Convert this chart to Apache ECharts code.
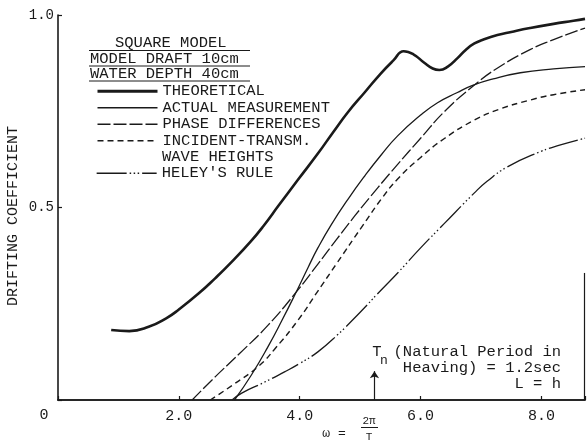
<!DOCTYPE html>
<html><head><meta charset="utf-8">
<script src="https://cdn.jsdelivr.net/npm/echarts@6/dist/echarts.min.js"></script>
<style>html,body{margin:0;padding:0;background:#fff}#c{width:588px;height:446px}</style>
</head><body><div id="c"></div>
<script>
// ---- data ----
const xTickLabels = ['0', '2.0', '4.0', '6.0', '8.0'];
const yTickLabels = ['0.5', '1.0'];

const theoW = [0.88,1.18,1.5,1.79,2.0,2.33,2.6,2.87,3.19,3.4,3.65,3.97,4.3,4.55,4.8,5.08,5.34,5.55,5.72,5.88,6.06,6.2,6.31,6.45,6.61,6.75,6.89,7.05,7.27,7.5,7.81,8.2,8.53,8.72];
const theoV = [0.182,0.179,0.19,0.212,0.235,0.277,0.316,0.358,0.412,0.452,0.505,0.572,0.64,0.695,0.748,0.80,0.848,0.882,0.906,0.898,0.876,0.861,0.857,0.866,0.888,0.91,0.926,0.937,0.948,0.956,0.966,0.977,0.985,0.99];

const actW = [2.92,3.2,3.48,3.7,3.94,4.14,4.3,4.52,4.8,5.08,5.35,5.62,6.0,6.28,6.6,6.86,7.2,7.65,8.2,8.72];
const actV = [0,0.065,0.14,0.205,0.28,0.345,0.395,0.455,0.522,0.583,0.637,0.686,0.74,0.772,0.798,0.817,0.834,0.85,0.86,0.866];

const phW = [2.22,2.6,3.0,3.48,3.94,4.3,4.6,4.91,5.3,5.62,6.0,6.4,6.89,7.3,7.81,8.2,8.72];
const phV = [0,0.06,0.12,0.195,0.28,0.353,0.415,0.478,0.553,0.612,0.68,0.75,0.818,0.865,0.91,0.936,0.966];

const incW = [2.52,2.9,3.32,3.6,3.97,4.3,4.6,5.05,5.35,5.62,6.0,6.4,6.89,7.3,7.81,8.2,8.72];
const incV = [0,0.04,0.088,0.135,0.207,0.283,0.352,0.455,0.522,0.574,0.63,0.68,0.727,0.755,0.779,0.793,0.806];

const helW = [2.88,3.04,3.4,3.76,4.0,4.3,4.63,5.0,5.3,5.62,6.0,6.39,6.89,7.1,7.43,7.98,8.3,8.72];
const helV = [0,0.018,0.045,0.074,0.095,0.125,0.17,0.228,0.278,0.33,0.395,0.458,0.538,0.568,0.605,0.645,0.662,0.68];

const naturalOmega = 2 * Math.PI / 1.2;  // Tn = 1.2 sec
const arrowTop = 0.075;

const seriesNames = ['THEORETICAL', 'ACTUAL MEASUREMENT', 'PHASE DIFFERENCES', 'INCIDENT-TRANSM.', "HELEY'S RULE"];
// ---------------------------------------

const zip = (a, b) => a.map((v, i) => [v, b[i]]);
const INK = '#1a1a1a';
const MONO = '"Liberation Mono", "DejaVu Sans Mono", monospace';
const widths = [2.6, 1.3, 1.3, 1.4, 1.3];
const dashes = ['solid', 'solid', [13, 3], [6, 4], [30, 3, 1.5, 2.5, 1.5, 2.5, 1.5, 3]];

function lineSeries(i, data) {
  return {
    name: seriesNames[i], type: 'line', data, showSymbol: false, symbol: 'none',
    smooth: 0.5,
    lineStyle: { color: INK, width: widths[i], type: dashes[i], cap: 'butt', join: 'round' },
    itemStyle: { color: INK },
    emphasis: { disabled: true }, silent: true, z: 3
  };
}

const chart = echarts.init(document.getElementById('c'), null, { renderer: 'canvas' });
const txt = (text, x, y, size, align, extra) => Object.assign({
  type: 'text', x, y, silent: true,
  style: { text, fill: INK, font: size + 'px ' + MONO, textAlign: align || 'left', textVerticalAlign: 'middle' }
}, extra || {});
const hline = (x1, x2, y, w) => ({ type: 'line', silent: true, shape: { x1, y1: y, x2, y2: y }, style: { stroke: INK, lineWidth: w || 1 } });

const legendText = { fontFamily: MONO, fontSize: 15.5, color: INK, lineHeight: 16.5 };
const legendItem = i => ({
  name: seriesNames[i],
  itemStyle: { opacity: 0 },
  lineStyle: { color: INK, width: i === 0 ? 3 : 1.3, type: dashes[i], opacity: 1 }
});

const option = {
  backgroundColor: '#ffffff',
  animation: false,
  grid: { left: 58, right: 0, top: 15, bottom: 46, containLabel: false },
  xAxis: [{
    type: 'value', min: 0, max: 8.72, interval: 2,
    axisLine: { show: true, onZero: false, lineStyle: { color: INK, width: 1.6 } },
    axisTick: { show: true, inside: true, length: 4, lineStyle: { color: INK, width: 1.2 } },
    axisLabel: {
      margin: 9, color: INK, fontFamily: MONO, fontSize: 15,
      formatter: v => { const i = Math.round(v / 2); return (Math.abs(v - i * 2) < 1e-6 && i > 0 && i < xTickLabels.length) ? xTickLabels[i] : ''; }
    },
    splitLine: { show: false }
  }, {
    type: 'value', position: 'top', min: 0, max: 8.72,
    axisLine: { show: true, lineStyle: { color: INK, width: 1.6 } },
    axisTick: { show: false }, axisLabel: { show: false }, splitLine: { show: false }
  }],
  yAxis: {
    type: 'value', min: 0, max: 1, interval: 0.5,
    axisLine: { show: true, lineStyle: { color: INK, width: 1.6 } },
    axisTick: { show: true, inside: true, length: 4, lineStyle: { color: INK, width: 1.2 } },
    axisLabel: {
      margin: 4, color: INK, fontFamily: MONO, fontSize: 14,
      formatter: v => { const i = Math.round(v / 0.5); return (i >= 1 && i <= yTickLabels.length) ? yTickLabels[i - 1] : ''; }
    },
    splitLine: { show: false }
  },
  legend: [{
    data: [0, 1, 2, 3].map(legendItem), orient: 'vertical', left: 96, top: 83,
    itemWidth: 60, itemHeight: 8, itemGap: 0, padding: 0, selectedMode: false,
    itemStyle: { opacity: 0 },
    textStyle: legendText
  }, {
    data: [4].map(legendItem), orient: 'vertical', left: 96, top: 165,
    itemWidth: 60, itemHeight: 8, itemGap: 0, padding: 0, selectedMode: false,
    itemStyle: { opacity: 0 },
    textStyle: legendText
  }],
  series: [
    Object.assign(lineSeries(0, zip(theoW, theoV)), {
      markLine: {
        silent: true, symbol: ['none', 'arrow'], symbolSize: 7, animation: false,
        label: { show: false },
        lineStyle: { color: INK, width: 1.2, type: 'solid' },
        data: [
          [{ coord: [naturalOmega, 0] }, { coord: [naturalOmega, arrowTop] }],
          [{ coord: [8.70, 0], symbol: 'none' }, { coord: [8.70, 0.33], symbol: 'none' }]
        ]
      }
    }),
    lineSeries(1, zip(actW, actV)),
    lineSeries(2, zip(phW, phV)),
    lineSeries(3, zip(incW, incV)),
    lineSeries(4, zip(helW, helV))
  ],
  graphic: [
    txt('SQUARE MODEL', 115, 43, 15.5),
    hline(89, 250, 50.5),
    txt('MODEL DRAFT 10cm', 90, 59, 15.5),
    hline(89, 250, 66),
    txt('WATER DEPTH 40cm', 90, 74, 15.5),
    hline(89, 250, 81),
    txt('WAVE HEIGHTS', 162, 157, 15.5),
    txt(xTickLabels[0], 44, 415, 15, 'center'),
    txt('DRIFTING COEFFICIENT', 13, 216, 15, 'center', { rotation: Math.PI / 2 }),
    txt('ω =', 334, 434, 13, 'center'),
    txt('2π', 369, 421, 11, 'center'),
    hline(361, 378, 427.5, 1),
    txt('T', 369, 437, 11, 'center'),
    txt('T', 377, 352, 15.5, 'center'),
    txt('n', 384, 361, 13, 'center'),
    txt('(Natural Period in', 561, 352, 15.5, 'right'),
    txt('Heaving) = 1.2sec', 561, 368, 15.5, 'right'),
    txt('L = h', 561, 384, 15.5, 'right')
  ]
};
chart.setOption(option);
</script>
</body></html>
